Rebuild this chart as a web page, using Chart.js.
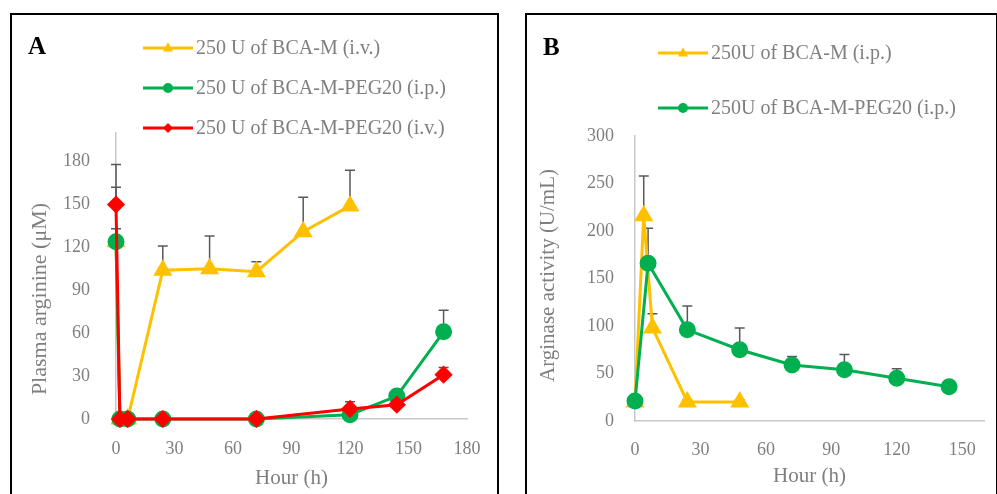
<!DOCTYPE html>
<html>
<head>
<meta charset="utf-8">
<script src="https://cdn.jsdelivr.net/npm/chart.js@4"></script>
<style>
	body { margin: 0; background: #fff; width: 997px; height: 494px; overflow: hidden; position: relative; }
	.panel { position: absolute; border: 2px solid #000; background: #fff; }
	#panelA { left: 10px; top: 13px; width: 485px; height: 490px; }
	#panelB { left: 525px; top: 13px; width: 469px; height: 490px; }
	.letter { position: absolute; font: bold 25px "Liberation Serif", serif; color: #000; }
	canvas { position: absolute; left: 0; top: 0; }
</style>
</head>
<body>
<div class="panel" id="panelA">
	<canvas id="chartA" width="485" height="490"></canvas>
	<div class="letter" style="left:16px;top:17px;">A</div>
</div>
<div class="panel" id="panelB">
	<canvas id="chartB" width="469" height="490"></canvas>
	<div class="letter" style="left:16px;top:18px;">B</div>
</div>
<script>
// Panel A - plasma arginine
const hoursA_M = [0, 2, 6, 24, 48, 72, 96, 120];
const argA_M = [124, 0, 0, 104, 105, 103, 131, 149];
const errA_M = [38, 0, 0, 17, 23, 7, 24, 25];

const hoursA_PEG = [0, 2, 6, 24, 72, 120, 144, 168];
const argA_PEGip = [124, 0, 0, 0, 0, 3, 16, 61];
const errA_PEGip = [9, 0, 0, 0, 0, 0, 0, 15];
const argA_PEGiv = [150, 0, 0, 0, 0, 7, 10, 31];
const errA_PEGiv = [28, 0, 0, 0, 0, 5, 0, 5];

const labelsA = ["250 U of BCA-M (i.v.)", "250 U of BCA-M-PEG20 (i.p.)", "250 U of BCA-M-PEG20 (i.v.)"];
const xTicksA = [0, 30, 60, 90, 120, 150, 180];
const yTicksA = [0, 30, 60, 90, 120, 150, 180];

// Panel B - arginase activity
const hoursB_M = [0, 4, 8, 24, 48];
const actB_M = [20, 216, 98, 20, 20];
const errB_M = [0, 42, 15, 2, 2];

const hoursB_PEG = [0, 6, 24, 48, 72, 96, 120, 144];
const actB_PEG = [21, 166, 96, 75, 59, 54, 45, 36];
const errB_PEG = [0, 37, 25, 23, 9, 16, 10, 0];

const labelsB = ["250U of BCA-M (i.p.)", "250U of BCA-M-PEG20 (i.p.)"];
const xTicksB = [0, 30, 60, 90, 120, 150];
const yTicksB = [0, 50, 100, 150, 200, 250, 300];

const YELLOW = "#FFC000";
const GREEN = "#00B050";
const RED = "#FF0000";
const GREY_TEXT = "#7f7f7f";
const FONT = "Liberation Serif";

function pts(xs, ys) {
	return xs.map((x, i) => ({ x: x, y: ys[i] }));
}

function marker(ctx, style, x, y, r) {
	ctx.beginPath();
	if (style === "circle") {
		ctx.arc(x, y, r, 0, Math.PI * 2);
	} else if (style === "triangle") {
		ctx.moveTo(x, y - r * 1.15);
		ctx.lineTo(x + r, y + r * 0.7);
		ctx.lineTo(x - r, y + r * 0.7);
		ctx.closePath();
	} else {
		ctx.moveTo(x, y - r);
		ctx.lineTo(x + r, y);
		ctx.lineTo(x, y + r);
		ctx.lineTo(x - r, y);
		ctx.closePath();
	}
	ctx.fill();
}

// upper error bars only
const errorBars = {
	id: "errorBars",
	beforeDatasetsDraw(chart) {
		const ctx = chart.ctx;
		const yScale = chart.scales.y;
		ctx.save();
		ctx.strokeStyle = "#595959";
		ctx.lineWidth = 1.5;
		chart.data.datasets.forEach((ds, i) => {
			if (!ds.errors) return;
			chart.getDatasetMeta(i).data.forEach((pt, j) => {
				const e = ds.errors[j];
				if (!e) return;
				const top = yScale.getPixelForValue(ds.data[j].y + e);
				ctx.beginPath();
				ctx.moveTo(pt.x, pt.y);
				ctx.lineTo(pt.x, top);
				ctx.moveTo(pt.x - 5, top);
				ctx.lineTo(pt.x + 5, top);
				ctx.stroke();
			});
		});
		ctx.restore();
	}
};

// stacked legend, one row per series
const stackedLegend = {
	id: "stackedLegend",
	afterDraw(chart, args, opts) {
		const ctx = chart.ctx;
		ctx.save();
		chart.data.datasets.forEach((ds, i) => {
			const y = opts.y0 + i * opts.dy;
			ctx.strokeStyle = ds.borderColor;
			ctx.fillStyle = ds.borderColor;
			ctx.lineWidth = 3;
			ctx.beginPath();
			ctx.moveTo(opts.x, y);
			ctx.lineTo(opts.x + 50, y);
			ctx.stroke();
			marker(ctx, ds.pointStyle, opts.x + 25, y, 5);
			ctx.fillStyle = GREY_TEXT;
			ctx.font = "20px " + FONT;
			ctx.textBaseline = "middle";
			ctx.fillText(ds.label, opts.x + 53, y + 1);
		});
		ctx.restore();
	}
};

// rotated y axis title, placed like the Excel original
const sideTitle = {
	id: "sideTitle",
	afterDraw(chart, args, opts) {
		const ctx = chart.ctx;
		const area = chart.chartArea;
		ctx.save();
		ctx.translate(opts.x, (area.top + area.bottom) / 2 + opts.shift);
		ctx.rotate(-Math.PI / 2);
		ctx.fillStyle = GREY_TEXT;
		ctx.font = opts.size + "px " + FONT;
		ctx.textAlign = "center";
		ctx.textBaseline = "middle";
		ctx.fillText(opts.text, 0, 0);
		ctx.restore();
	}
};

function series(label, color, style, data, errors, order) {
	return {
		label: label,
		data: data,
		errors: errors,
		borderColor: color,
		backgroundColor: color,
		pointBackgroundColor: color,
		pointBorderColor: color,
		pointStyle: style,
		pointRadius: style === "triangle" ? 8 : 7,
		borderWidth: 3,
		tension: 0,
		clip: false,
		order: order,
	};
}

function axisOptions(cfg) {
	const tickFont = { family: FONT, size: 18 };
	const titleFont = { family: FONT, size: 21 };
	return {
		x: {
			type: "linear",
			min: 0,
			max: cfg.xMax,
			afterFit: (s) => { s.height = cfg.xHeight; },
			afterBuildTicks: (s) => { s.ticks = cfg.xTicks.map((v) => ({ value: v })); },
			grid: { display: false },
			border: { display: true, color: "#c8c8c8", width: 1.5 },
			ticks: {
				padding: cfg.xPad,
				autoSkip: false,
				color: GREY_TEXT,
				font: tickFont,
				maxRotation: 0,
			},
			title: { display: true, text: "Hour (h)", color: GREY_TEXT, font: titleFont },
		},
		y: {
			min: 0,
			max: cfg.yMax,
			afterFit: (s) => { s.width = cfg.yWidth; },
			afterBuildTicks: (s) => { s.ticks = cfg.yTicks.map((v) => ({ value: v })); },
			grid: { display: false },
			border: { display: true, color: "#c8c8c8", width: 1.5 },
			ticks: {
				padding: cfg.yPad,
				autoSkip: false,
				color: GREY_TEXT,
				font: tickFont,
			},
		},
	};
}

window.addEventListener("DOMContentLoaded", () => {
	const configA = {
		type: "line",
		data: {
			datasets: [
				series(labelsA[0], YELLOW, "triangle", pts(hoursA_M, argA_M), errA_M, 2),
				series(labelsA[1], GREEN, "circle", pts(hoursA_PEG, argA_PEGip), errA_PEGip, 1),
				series(labelsA[2], RED, "rectRot", pts(hoursA_PEG, argA_PEGiv), errA_PEGiv, 0),
			],
		},
		options: {
			responsive: false,
			animation: false,
			layout: { padding: { top: 118, left: 12, right: 30, bottom: 10 } },
			scales: axisOptions({ xMax: 180, xTicks: xTicksA, xHeight: 76, xPad: 11, yMax: 200, yTicks: yTicksA, yWidth: 92, yPad: 18 }),
			plugins: {
				legend: { display: false },
				tooltip: { enabled: false },
				stackedLegend: { x: 131, y0: 33, dy: 40 },
				sideTitle: { text: "Plasma arginine (μM)", x: 28, shift: 23, size: 22 },
			},
		},
		plugins: [errorBars, stackedLegend, sideTitle],
	};

	const configB = {
		type: "line",
		data: {
			datasets: [
				series(labelsB[0], YELLOW, "triangle", pts(hoursB_M, actB_M), errB_M, 1),
				series(labelsB[1], GREEN, "circle", pts(hoursB_PEG, actB_PEG), errB_PEG, 0),
			],
		},
		options: {
			responsive: false,
			animation: false,
			layout: { padding: { top: 121, left: 5, right: 12, bottom: 12 } },
			scales: axisOptions({ xMax: 160, xTicks: xTicksB, xHeight: 72, xPad: 10, yMax: 300, yTicks: yTicksB, yWidth: 103, yPad: 13 }),
			plugins: {
				legend: { display: false },
				tooltip: { enabled: false },
				stackedLegend: { x: 131, y0: 38, dy: 55 },
				sideTitle: { text: "Arginase activity (U/mL)", x: 21, shift: -3, size: 21 },
			},
		},
		plugins: [errorBars, stackedLegend, sideTitle],
	};

	new Chart(document.getElementById("chartA").getContext("2d"), configA);
	new Chart(document.getElementById("chartB").getContext("2d"), configB);
});
</script>
</body>
</html>
